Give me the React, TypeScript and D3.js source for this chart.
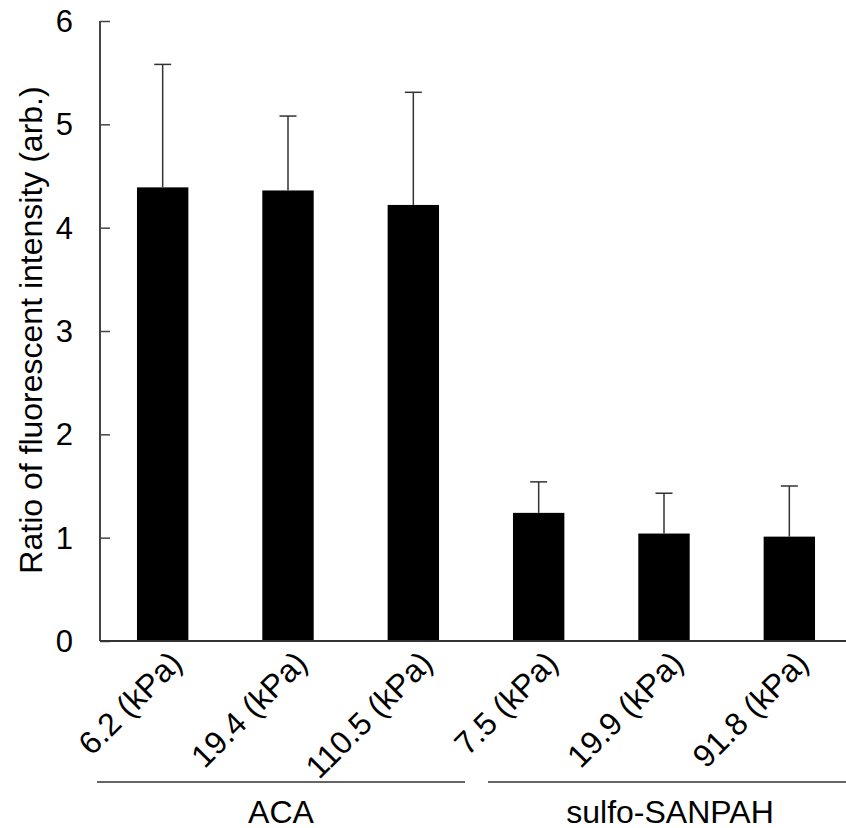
import { useEffect, useRef } from 'react';
import * as d3 from 'd3';

// values
const categories = ['6.2 (kPa)', '19.4 (kPa)', '110.5 (kPa)', '7.5 (kPa)', '19.9 (kPa)', '91.8 (kPa)'];
const means = [4.39, 4.36, 4.22, 1.24, 1.04, 1.01];
const errors = [1.19, 0.72, 1.09, 0.30, 0.39, 0.49];
const groups = [
  { name: 'ACA', from: 0, to: 2 },
  { name: 'sulfo-SANPAH', from: 3, to: 5 },
];
const yTicks = [0, 1, 2, 3, 4, 5, 6];
const yLabel = 'Ratio of fluorescent intensity (arb.)';

const FONT = "Arial, 'Liberation Sans', sans-serif";

const App = () => {
  const ref = useRef<HTMLDivElement>(null);

  useEffect(() => {
    const W = 846;
    const H = 828;
    const left = 100;
    const right = 852;
    const top = 21;
    const bottom = 641;

    d3.select(ref.current).selectAll('svg').remove();

    const svg = d3.select(ref.current)
      .append('svg')
      .attr('width', W)
      .attr('height', H)
      .style('position', 'absolute')
      .style('left', 0)
      .style('top', 0)
      .style('background', '#fff');

    const data = categories.map((c, i) => ({ c, m: means[i], e: errors[i] }));

    const x = d3.scaleBand()
      .domain(categories)
      .range([left, right])
      .paddingInner(0.59)
      .paddingOuter(0.295);

    const y = d3.scaleLinear()
      .domain([0, 6])
      .range([bottom, top]);

    // bars
    svg.append('g')
      .selectAll('rect')
      .data(data)
      .join('rect')
      .attr('x', d => x(d.c)!)
      .attr('y', d => y(d.m))
      .attr('width', x.bandwidth())
      .attr('height', d => y(0) - y(d.m))
      .attr('fill', '#000');

    // error bars (upper only)
    const eb = svg.append('g')
      .attr('stroke', '#333')
      .attr('stroke-width', 1.5);
    data.forEach(d => {
      const cx = x(d.c)! + x.bandwidth() / 2;
      eb.append('line')
        .attr('x1', cx).attr('x2', cx)
        .attr('y1', y(d.m)).attr('y2', y(d.m + d.e));
      eb.append('line')
        .attr('x1', cx - 8.5).attr('x2', cx + 8.5)
        .attr('y1', y(d.m + d.e)).attr('y2', y(d.m + d.e));
    });

    // y axis, ticks pointing inward
    const yAxis = svg.append('g')
      .attr('transform', `translate(${left},0)`)
      .call(d3.axisRight(y).tickValues(yTicks).tickSize(10).tickFormat(() => ''));
    yAxis.select('.domain').remove();
    yAxis.selectAll('line').attr('stroke', '#444').attr('stroke-width', 1.5);

    svg.append('line')
      .attr('x1', left).attr('x2', left)
      .attr('y1', top).attr('y2', bottom)
      .attr('stroke', '#444').attr('stroke-width', 2);
    svg.append('line')
      .attr('x1', left).attr('x2', right)
      .attr('y1', bottom).attr('y2', bottom)
      .attr('stroke', '#333').attr('stroke-width', 2);

    svg.append('g')
      .selectAll('text')
      .data(yTicks)
      .join('text')
      .attr('x', 73)
      .attr('y', d => y(d))
      .attr('dy', '0.36em')
      .attr('text-anchor', 'end')
      .attr('font-family', FONT)
      .attr('font-size', 31)
      .text(d => d);

    svg.append('text')
      .attr('transform', `translate(42,330) rotate(-90)`)
      .attr('text-anchor', 'middle')
      .attr('font-family', FONT)
      .attr('font-size', 32)
      .text(yLabel);

    // category labels, rotated
    svg.append('g')
      .selectAll('text')
      .data(categories)
      .join('text')
      .attr('transform', d => `translate(${x(d)! + x.bandwidth() / 2 + 21},665) rotate(-45)`)
      .attr('text-anchor', 'end')
      .attr('font-family', FONT)
      .attr('font-size', 32)
      .text(d => d);

    // group brackets
    const step = x.step();
    groups.forEach((g, i) => {
      const start = x(categories[g.from])! - (i === 0 ? x.paddingOuter() : x.paddingInner() / 2) * step;
      const end = x(categories[g.to])! + x.bandwidth() + x.paddingInner() * step / 2;
      svg.append('line')
        .attr('x1', i === 0 ? start - 3 : start + 12)
        .attr('x2', i === groups.length - 1 ? right : end - 11)
        .attr('y1', 782).attr('y2', 782)
        .attr('stroke', '#333').attr('stroke-width', 1.5);
      svg.append('text')
        .attr('x', i === 0 ? 281 : 670)
        .attr('y', 823)
        .attr('text-anchor', 'middle')
        .attr('font-family', FONT)
        .attr('font-size', 32)
        .text(g.name);
    });
  }, []);

  return <div ref={ref}></div>;
};

export default App;
